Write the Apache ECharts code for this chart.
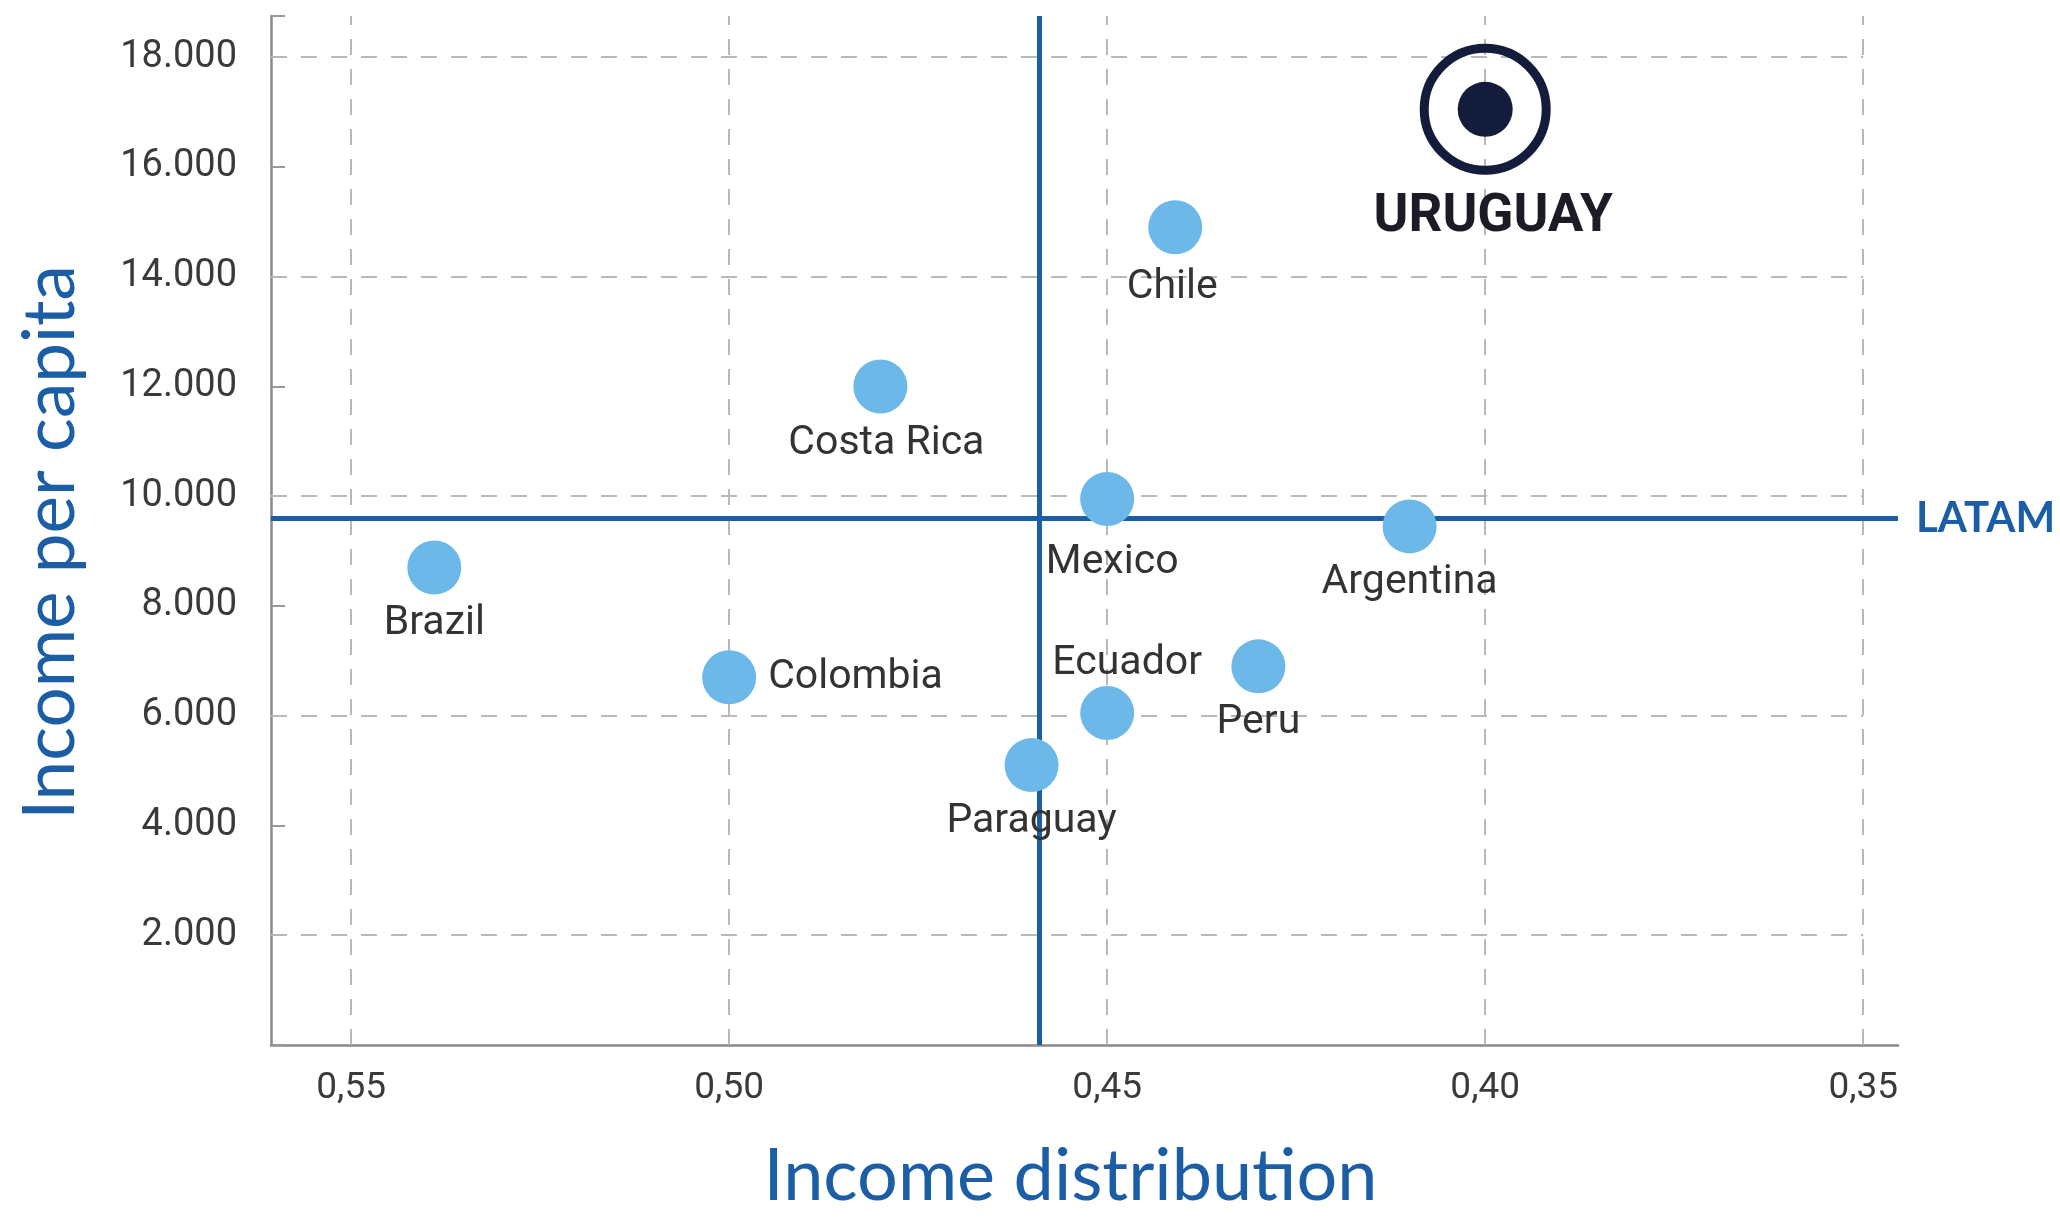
<!DOCTYPE html>
<html><head><meta charset="utf-8">
<script src="https://cdn.jsdelivr.net/npm/echarts@6/dist/echarts.min.js"></script>
<style>html,body{margin:0;padding:0;background:#fff}#c{width:2060px;height:1218px}</style>
</head><body><div id="c"></div>
<script>
// ---- data ----
const countries = ['Brazil', 'Colombia', 'Costa Rica', 'Mexico', 'Chile', 'Argentina', 'Ecuador', 'Peru', 'Paraguay'];
const giniValues = [0.539, 0.500, 0.480, 0.450, 0.441, 0.410, 0.450, 0.430, 0.460];
const incomeValues = [8700, 6700, 12000, 9950, 14900, 9450, 6050, 6900, 5100];
const highlightCountry = 'URUGUAY';
const highlightGini = 0.400;
const highlightIncome = 17050;
const latamLabel = 'LATAM';
const latamGini = 0.459;
const latamIncome = 9590;
const xTickLabels = [0.55, 0.50, 0.45, 0.40, 0.35];
const yTickLabels = [2000, 4000, 6000, 8000, 10000, 12000, 14000, 16000, 18000];
const yGridValues = [2000, 6000, 10000, 14000, 18000];
const xAxisTitle = 'Income distribution';
const yAxisTitle = 'Income per capita';

// ---- layout / style ----
const X_MIN = 0.3454, X_MAX = 0.5606, Y_MIN = 0, Y_MAX = 18750;
const labelPlacement = {
  'Colombia': { position: 'right', distance: 12 },
  'Ecuador': { position: 'top', distance: 2, offset: [20, 0] },
  'Mexico': { position: 'bottom', distance: 16, offset: [5, 0] },
  'Chile': { position: 'bottom', distance: 13, offset: [-3, 0] },
  'Costa Rica': { position: 'bottom', distance: 10, offset: [6, 0] }
};
const BLUE = '#1b5ea6', DOT = '#6cb9e9', NAVY = '#141c3c', GRIDC = '#b8b8b8';

const near = (v, arr) => arr.some(a => Math.abs(a - v) < 1e-6);
const fmtY = v => String(v).replace(/\B(?=(\d{3})+(?!\d))/g, '.');

const pts = countries.map((c, i) => {
  const lp = labelPlacement[c] || { position: 'bottom', distance: 9 };
  return { name: c, value: [giniValues[i], incomeValues[i]], label: Object.assign({}, lp) };
});

const gridLines = [];
yGridValues.forEach(v => gridLines.push([{ coord: [X_MAX, v] }, { coord: [xTickLabels[xTickLabels.length - 1], v] }]));
xTickLabels.forEach(v => gridLines.push([{ coord: [v, Y_MIN] }, { coord: [v, Y_MAX] }]));

const chart = echarts.init(document.getElementById('c'), null, { renderer: 'canvas' });
chart.setOption({
  animation: false,
  backgroundColor: '#fff',
  grid: { left: 271, right: 162, top: 16, bottom: 163 },
  xAxis: {
    type: 'value', inverse: true, min: X_MIN, max: X_MAX,
    name: xAxisTitle, nameLocation: 'middle', nameGap: 96,
    nameTextStyle: { fontFamily: 'Lato', fontSize: 72, color: BLUE, padding: [0, 28, 0, 0] },
    axisLine: { show: true, onZero: false, lineStyle: { color: '#8a8a8a', width: 2.5 } },
    axisTick: { show: false },
    splitLine: { show: false },
    axisLabel: {
      margin: 25, fontFamily: 'Roboto', fontSize: 37, color: '#3a3a3a',
      formatter: v => near(v, xTickLabels) ? v.toFixed(2).replace('.', ',') : ''
    }
  },
  yAxis: {
    type: 'value', min: Y_MIN, max: Y_MAX, interval: 2000,
    name: yAxisTitle, nameLocation: 'middle', nameGap: 184, nameRotate: 90,
    nameTextStyle: { fontFamily: 'Lato', fontSize: 71, color: BLUE, padding: [0, 24, 0, 0] },
    axisLine: { show: true, onZero: false, lineStyle: { color: '#8a8a8a', width: 2.5 } },
    axisTick: { show: true, inside: true, length: 14, lineStyle: { color: '#999', width: 2 } },
    splitLine: { show: false },
    axisLabel: {
      margin: 34, fontFamily: 'Roboto', fontSize: 38, color: '#3a3a3a',
      formatter: v => near(v, yTickLabels) ? fmtY(v) : ''
    }
  },
  series: [
    {
      type: 'line', data: [], clip: false, silent: true,
      markLine: {
        silent: true, symbol: ['none', 'none'], animation: false,
        label: { show: false },
        lineStyle: { type: [16, 14], color: GRIDC, width: 2 },
        data: gridLines
      }
    },
    {
      type: 'line', data: [], clip: false, silent: true, z: 3,
      markLine: {
        silent: true, symbol: ['none', 'none'], animation: false,
        lineStyle: { type: 'solid', color: BLUE, width: 5 },
        data: [
          [{ coord: [X_MAX, latamIncome] },
           { coord: [X_MIN, latamIncome],
             label: { show: true, position: 'end', formatter: latamLabel, distance: 18,
                      fontFamily: 'Lato', fontWeight: 'bold', fontSize: 42, color: BLUE } }],
          [{ coord: [latamGini, Y_MIN], label: { show: false } },
           { coord: [latamGini, Y_MAX], label: { show: false } }]
        ]
      }
    },
    {
      type: 'scatter', z: 5, symbol: 'circle', symbolSize: 54,
      itemStyle: { color: DOT, opacity: 1 },
      label: { show: true, formatter: '{b}', fontFamily: 'Roboto', fontSize: 41, color: '#333' },
      data: pts
    },
    {
      type: 'scatter', z: 5, symbol: 'circle', symbolSize: 122,
      itemStyle: { color: 'rgba(0,0,0,0)', borderColor: NAVY, borderWidth: 9, opacity: 1 },
      data: [{ name: highlightCountry, value: [highlightGini, highlightIncome] }]
    },
    {
      type: 'scatter', z: 6, symbol: 'circle', symbolSize: 55,
      itemStyle: { color: NAVY, opacity: 1 },
      label: { show: true, position: 'bottom', distance: 54, offset: [8, 0], formatter: '{b}',
               fontFamily: 'Roboto', fontWeight: 'bold', fontSize: 53, color: '#1c1c26' },
      data: [{ name: highlightCountry, value: [highlightGini, highlightIncome] }]
    }
  ]
});
</script></body></html>
